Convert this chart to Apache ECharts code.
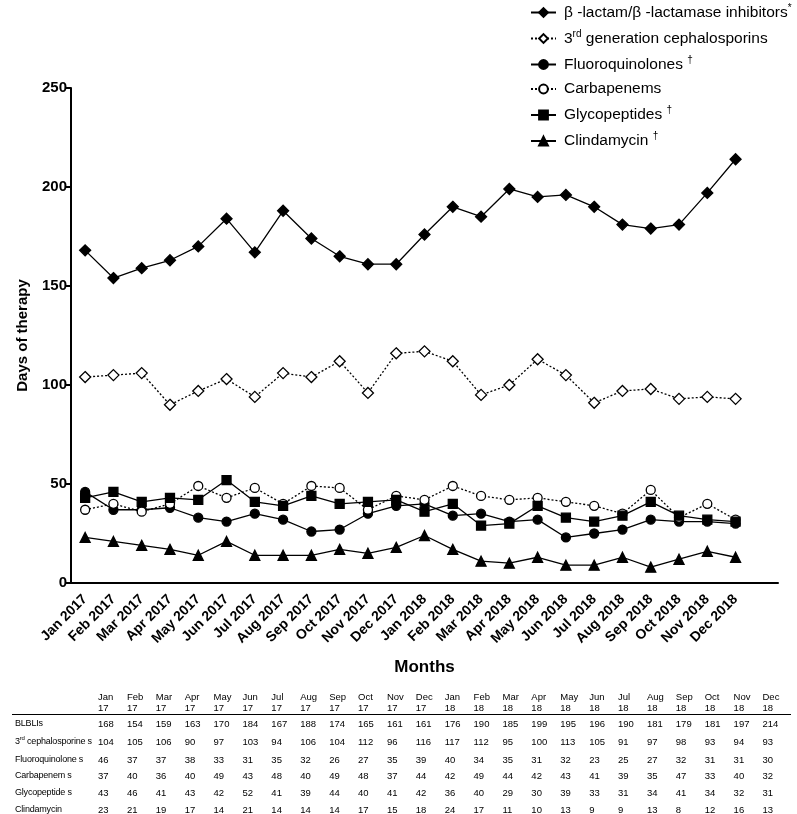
<!DOCTYPE html>
<html>
<head>
<meta charset="utf-8">
<script src="https://cdn.jsdelivr.net/npm/echarts@6/dist/echarts.min.js"></script>
<style>
html,body{margin:0;padding:0;background:#fff;}
#chart{position:absolute;left:0;top:0;width:797px;height:814px;}
#tbl{position:absolute;left:12px;top:691px;border-collapse:collapse;font-family:'Liberation Sans',Arial,sans-serif;font-size:9.5px;color:#000;white-space:nowrap;table-layout:fixed;}
#tbl td{padding:0;height:16.6px;line-height:11px;vertical-align:middle;white-space:nowrap;overflow:visible;}
#tbl td.lab{width:83px;padding-left:3px;font-size:9px;letter-spacing:-0.2px;}
#tbl td.v{width:28.9px;}
#tbl tr.hd td{height:23px;line-height:11px;vertical-align:top;border-bottom:1px solid #000;}
#tbl tr.r1 td{height:17px;}
#tbl tr.r2 td{height:19px;}
sup{font-size:6px;line-height:0;}
</style>
</head>
<body>
<div id="chart"></div>
<table id="tbl"></table>
<script>
const monthNames = ['Jan','Feb','Mar','Apr','May','Jun','Jul','Aug','Sep','Oct','Nov','Dec'];
const years = ['2017','2018'];
const categories = [];
const headerMonths = [];
const headerYears = [];
years.forEach(y => monthNames.forEach(m => { categories.push(m + ' ' + y); headerMonths.push(m); headerYears.push(y.slice(2)); }));

const blbli       = [168,154,159,163,170,184,167,188,174,165,161,161,176,190,185,199,195,196,190,181,179,181,197,214];
const cephalo3    = [104,105,106,90,97,103,94,106,104,112,96,116,117,112,95,100,113,105,91,97,98,93,94,93];
const fluoro      = [46,37,37,38,33,31,35,32,26,27,35,39,40,34,35,31,32,23,25,27,32,31,31,30];
const carbapenems = [37,40,36,40,49,43,48,40,49,48,37,44,42,49,44,42,43,41,39,35,47,33,40,32];
const glyco       = [43,46,41,43,42,52,41,39,44,40,41,42,36,40,29,30,39,33,31,34,41,34,32,31];
const clinda      = [23,21,19,17,14,21,14,14,14,17,15,18,24,17,11,10,13,9,9,13,8,12,16,13];

const yTicks = {min:0, max:250, interval:50};

const legendNames = ['blbli','ceph','fluoro','carb','glyco','clinda'];
const legendLabels = {
  blbli: 'β -lactam/β -lactamase inhibitors{sup|*}',
  ceph: '3{sup|rd} generation cephalosporins',
  fluoro: 'Fluoroquinolones {sup|†}',
  carb: 'Carbapenems',
  glyco: 'Glycopeptides {sup|†}',
  clinda: 'Clindamycin {sup|†}'
};

const tableRows = [
  ['BLBLIs', blbli],
  ['3<sup>rd</sup> cephalosporine s', cephalo3],
  ['Fluoroquinolone s', fluoro],
  ['Carbapenem s', carbapenems],
  ['Glycopeptide s', glyco],
  ['Clindamycin', clinda]
];

// build table
const tbl = document.getElementById('tbl');
let html = '<tr class="hd"><td class="lab"></td>' + headerMonths.map((m,i)=>'<td class="v">'+m+'<br>'+headerYears[i]+'</td>').join('') + '</tr>';
tableRows.forEach((r, k) => {
  html += '<tr class="r' + (k + 1) + '"><td class="lab">' + r[0] + '</td>' + r[1].map(v=>'<td class="v">'+v+'</td>').join('') + '</tr>';
});
tbl.innerHTML = html;

const cats = categories.concat(['']);
const black = '#000';
function ser(name, data, symbol, size, filled, dotted){
  return {
    name: name, type: 'line', data: data, symbol: symbol, symbolSize: size,
    showSymbol: true,
    lineStyle: {color: black, width: 1.3, type: dotted ? [2,2] : 'solid'},
    itemStyle: {color: filled ? black : '#fff', borderColor: black, borderWidth: 1.3},
    emphasis: {disabled: true},
    z: 3
  };
}

const chart = echarts.init(document.getElementById('chart'), null, {renderer:'canvas'});
chart.setOption({
  animation: false,
  backgroundColor: '#fff',
  textStyle: {fontFamily: "'Liberation Sans', Arial, sans-serif"},
  legend: {
    orient: 'vertical', left: 525, top: -2, itemWidth: 25, itemHeight: 11, itemGap: 8.5,
    data: legendNames,
    formatter: n => legendLabels[n],
    textStyle: {fontSize: 15.5, color: black, padding: [0,0,0,3], rich: {sup: {fontSize: 10, verticalAlign: 'top', padding: [0,0,9,0], color: black}}}
  },
  grid: {left: 71, top: 88, width: 707, height: 495},
  xAxis: {
    type: 'category', data: cats, boundaryGap: true,
    name: 'Months', nameLocation: 'middle', nameGap: 76,
    nameTextStyle: {fontSize: 17, fontWeight: 'bold', color: black},
    axisLine: {lineStyle: {color: black, width: 2}},
    axisTick: {alignWithLabel: true, length: 7, lineStyle: {color: black, width: 2}, interval: (i) => i < 24},
    axisLabel: {rotate: 45, fontSize: 14, fontWeight: 'bold', color: black, margin: 14, interval: 0}
  },
  yAxis: {
    type: 'value', min: yTicks.min, max: yTicks.max, interval: yTicks.interval,
    name: 'Days of therapy', nameLocation: 'middle', nameGap: 41, nameRotate: 90,
    nameTextStyle: {fontSize: 15, fontWeight: 'bold', color: black},
    axisLine: {show: true, lineStyle: {color: black, width: 2}},
    axisTick: {show: true, length: 6, lineStyle: {color: black, width: 2}},
    axisLabel: {fontSize: 15, fontWeight: 'bold', color: black, margin: 4},
    splitLine: {show: false}
  },
  series: [
    ser('blbli', blbli, 'diamond', 11, true, false),
    ser('ceph', cephalo3, 'diamond', 11, false, true),
    ser('fluoro', fluoro, 'circle', 9, true, false),
    ser('carb', carbapenems, 'circle', 9, false, true),
    ser('glyco', glyco, 'rect', 9, true, false),
    ser('clinda', clinda, 'triangle', 10, true, false)
  ]
});
</script>
</body>
</html>
